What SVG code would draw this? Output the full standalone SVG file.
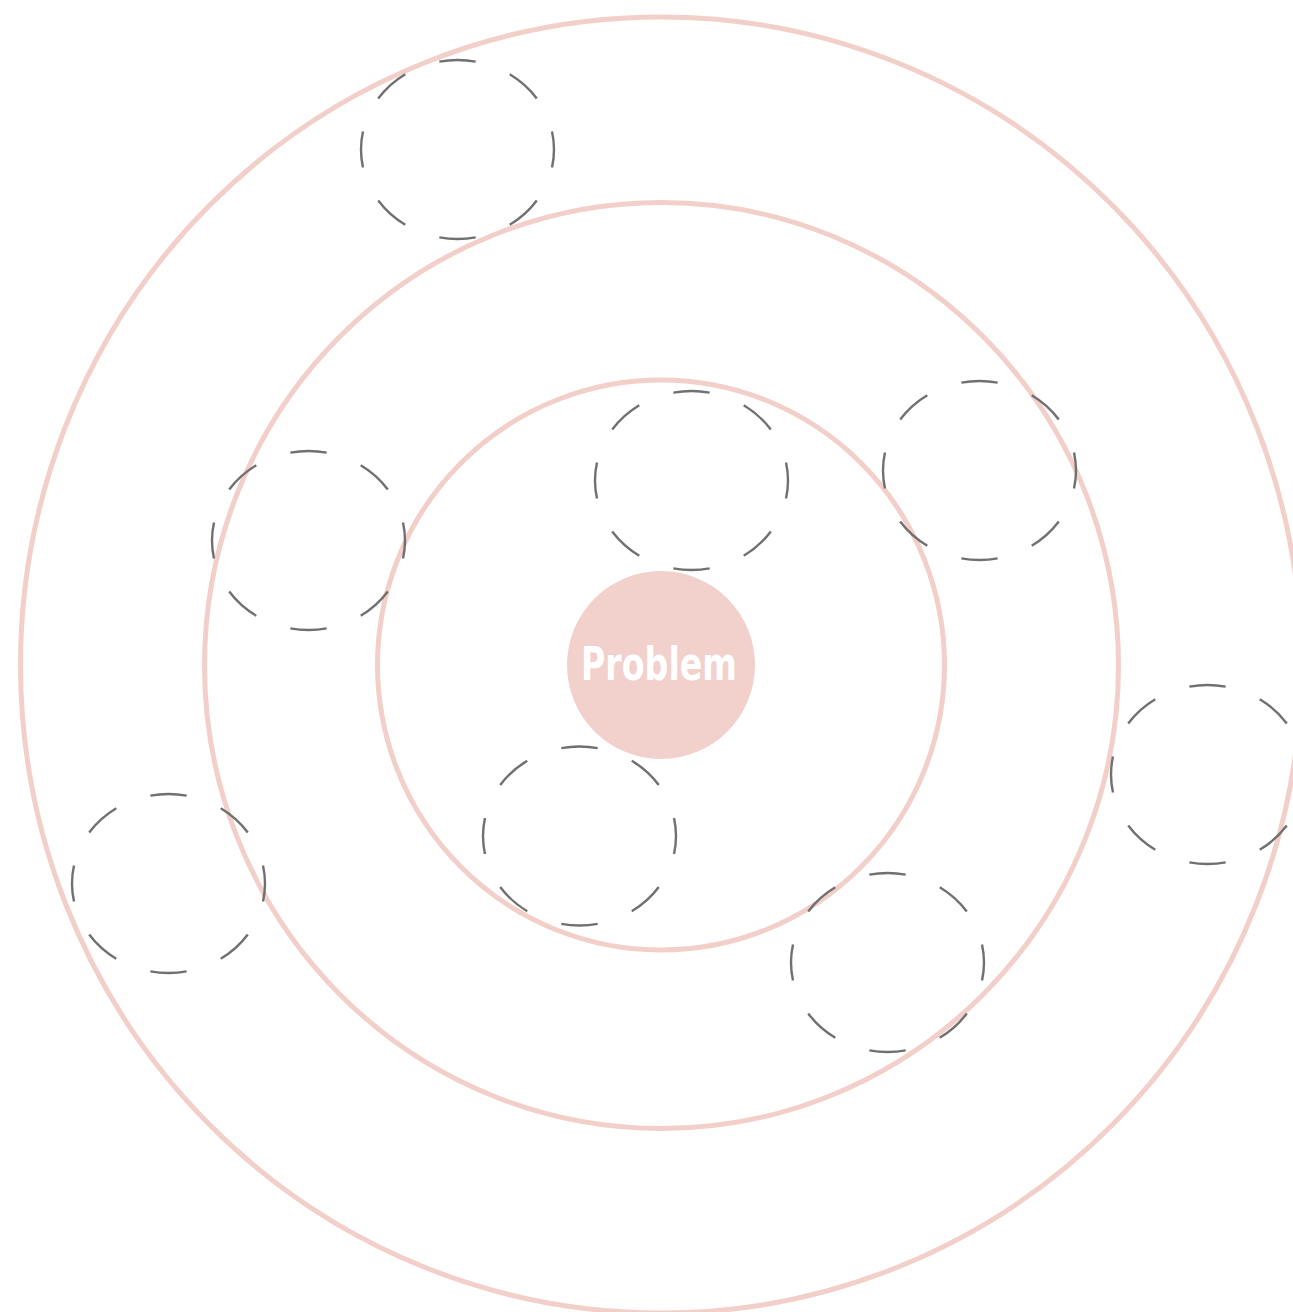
<svg xmlns="http://www.w3.org/2000/svg" width="1293" height="1312" viewBox="0 0 1293 1312">
<style>
.ring{fill:none;stroke:#f2cfc9;stroke-width:5}
.slot{fill:none;stroke:#707070;stroke-width:2.4;stroke-dasharray:5 5;stroke-dashoffset:2.5}
.label{font-family:"DejaVu Sans","Liberation Sans",sans-serif;font-weight:bold;font-size:46px;fill:#fff}
</style>
<rect width="1293" height="1312" fill="#fff"/>
<g id="rings">
<ellipse id="ring-outer" class="ring" cx="661" cy="665" rx="640.5" ry="648"/>
<ellipse id="ring-middle" class="ring" cx="661.5" cy="665.5" rx="457" ry="463"/>
<ellipse id="ring-inner" class="ring" cx="661" cy="665" rx="283.5" ry="285"/>
</g>
<g id="center">
<circle cx="661" cy="665" r="94" fill="#f2d0cb"/>
<text class="label" x="659" y="680" text-anchor="middle" textLength="156" lengthAdjust="spacingAndGlyphs">Problem</text>
</g>
<g id="slot1"><ellipse class="slot" pathLength="80" cx="457.5" cy="149.5" rx="96.5" ry="89.5"/></g>
<g id="slot2"><ellipse class="slot" pathLength="80" cx="691.5" cy="480.5" rx="96.5" ry="89.5"/></g>
<g id="slot3"><ellipse class="slot" pathLength="80" cx="979.5" cy="470.5" rx="96.5" ry="89.5"/></g>
<g id="slot4"><ellipse class="slot" pathLength="80" cx="308.5" cy="540.5" rx="96.5" ry="89.5"/></g>
<g id="slot5"><ellipse class="slot" pathLength="80" cx="579.5" cy="836" rx="96.5" ry="89.5"/></g>
<g id="slot6"><ellipse class="slot" pathLength="80" cx="1207.5" cy="774.5" rx="96.5" ry="89.5"/></g>
<g id="slot7"><ellipse class="slot" pathLength="80" cx="168.5" cy="883.5" rx="96.5" ry="89.5"/></g>
<g id="slot8"><ellipse class="slot" pathLength="80" cx="887.5" cy="962.5" rx="96.5" ry="89.5"/></g>
<g id="connectors"></g>
</svg>
